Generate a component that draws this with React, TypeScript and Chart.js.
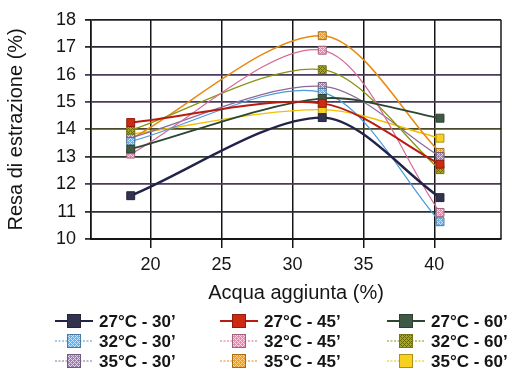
import { useEffect, useRef } from "react";
import { Chart, registerables } from "chart.js";

Chart.register(...registerables);

// ---- data ----
const waterAdded = [18.6, 32.1, 40.4]; // Acqua aggiunta (%)
const seriesLabels = [
  "27°C - 30’", "27°C - 45’", "27°C - 60’",
  "32°C - 30’", "32°C - 45’", "32°C - 60’",
  "35°C - 30’", "35°C - 45’", "35°C - 60’",
];
const s27_30 = [11.58, 14.43, 11.51];
const s27_45 = [14.25, 14.95, 12.73];
const s27_60 = [13.28, 15.13, 14.41];
const s32_30 = [13.56, 15.35, 10.63];
const s32_45 = [13.1, 16.89, 10.97];
const s32_60 = [13.97, 16.18, 12.53];
const s35_30 = [13.7, 15.57, 13.01];
const s35_45 = [13.65, 17.42, 13.16];
const s35_60 = [13.83, 14.72, 13.68];
const seriesValues = [s27_30, s27_45, s27_60, s32_30, s32_45, s32_60, s35_30, s35_45, s35_60];
const xTickValues = [20, 25, 30, 35, 40];
const yTickValues = [10, 11, 12, 13, 14, 15, 16, 17, 18];

// ---- styles ----
const FONT = "'Liberation Sans', Arial, Helvetica, sans-serif";
const styles = [
  { line: "#22224a", fill: "#33334f", hatch: null, width: 2.4, dash: false },
  { line: "#b81c10", fill: "#cc2a12", hatch: null, width: 2, dash: false },
  { line: "#2c4632", fill: "#3f5a44", hatch: null, width: 1.8, dash: false },
  { line: "#4a9ad8", fill: "#6ab0e8", hatch: "rgba(255,255,255,0.65)", width: 1.2, dash: true },
  { line: "#d66a98", fill: "#e88aae", hatch: "rgba(255,255,255,0.65)", width: 1.2, dash: true },
  { line: "#8a9410", fill: "#a8a820", hatch: "rgba(50,50,0,0.55)", width: 1.3, dash: true },
  { line: "#8a6a9a", fill: "#a080b0", hatch: "rgba(255,255,255,0.65)", width: 1.2, dash: true },
  { line: "#e88a10", fill: "#f0a020", hatch: "rgba(255,255,255,0.55)", width: 1.5, dash: true },
  { line: "#f0c000", fill: "#f8d020", hatch: null, width: 1.4, dash: true },
];

function makeFill(color: string, hatch: string | null): any {
  if (!hatch) return color;
  const c = document.createElement("canvas");
  c.width = 4;
  c.height = 4;
  const g = c.getContext("2d")!;
  g.fillStyle = color;
  g.fillRect(0, 0, 4, 4);
  g.fillStyle = hatch;
  for (let i = 0; i < 4; i++)
    for (let j = 0; j < 4; j++)
      if ((i + j) % 4 === 0 || (i - j + 4) % 4 === 0) g.fillRect(i, j, 1, 1);
  return g.createPattern(c, "repeat");
}

function darken(hex: string): string {
  const n = parseInt(hex.slice(1), 16);
  const r = Math.round(((n >> 16) & 255) * 0.7);
  const g = Math.round(((n >> 8) & 255) * 0.7);
  const b = Math.round((n & 255) * 0.7);
  return `rgb(${r},${g},${b})`;
}

const gridColors: Record<number, string> = {
  10: "#2a2a33", 11: "#2e2e3a", 12: "#4a3a5c", 13: "#2e3a2e", 14: "#4a4a2a",
  15: "#4a3a5c", 16: "#4a3a5c", 17: "#2a2a33", 18: "#1e1e28",
};

export default function App() {
  const ref = useRef<HTMLCanvasElement | null>(null);

  useEffect(() => {
    if (!ref.current) return;
    const fills = styles.map((s) => makeFill(s.fill, s.hatch));

    const datasets = seriesValues.map((vals, i) => ({
      label: seriesLabels[i],
      data: vals.map((v, k) => ({ x: waterAdded[k], y: v })),
      borderColor: styles[i].line,
      borderWidth: styles[i].width,
      backgroundColor: fills[i],
      pointBackgroundColor: fills[i],
      pointBorderColor: darken(styles[i].fill),
      pointBorderWidth: 1,
      pointStyle: "rect" as const,
      pointRadius: 5.6,
      tension: 0.3,
      fill: false,
    }));

    const bgPlugin = {
      id: "bg",
      beforeDraw(chart: any) {
        const ctx = chart.ctx;
        ctx.save();
        ctx.fillStyle = "#fff";
        ctx.fillRect(0, 0, chart.width, chart.height);
        ctx.restore();
      },
    };

    const framePlugin = {
      id: "frame",
      beforeDatasetsDraw(chart: any) {
        const { ctx, chartArea } = chart;
        ctx.save();
        ctx.strokeStyle = "#1a1a1a";
        ctx.lineWidth = 1.5;
        ctx.beginPath();
        ctx.moveTo(chartArea.right, chartArea.top);
        ctx.lineTo(chartArea.right, chartArea.bottom);
        ctx.stroke();
        ctx.restore();
      },
    };

    const legendPlugin = {
      id: "gridLegend",
      afterDraw(chart: any) {
        const ctx = chart.ctx;
        const colX = [55, 220, 387];
        const rowY = [321, 341, 361];
        ctx.save();
        chart.data.datasets.forEach((ds: any, i: number) => {
          const x = colX[i % 3];
          const y = rowY[Math.floor(i / 3)];
          const st = styles[i];
          ctx.strokeStyle = st.line;
          ctx.lineWidth = st.dash ? 1.2 : 1.8;
          ctx.setLineDash(st.dash ? [2, 1.5] : []);
          ctx.beginPath();
          ctx.moveTo(x, y);
          ctx.lineTo(x + 38, y);
          ctx.stroke();
          ctx.setLineDash([]);
          ctx.fillStyle = ds.pointBackgroundColor;
          ctx.fillRect(x + 12.5, y - 6.5, 13, 13);
          ctx.strokeStyle = ds.pointBorderColor;
          ctx.lineWidth = 1;
          ctx.strokeRect(x + 12.5, y - 6.5, 13, 13);
          ctx.fillStyle = "#151515";
          ctx.font = `bold 17px ${FONT}`;
          ctx.textBaseline = "middle";
          ctx.textAlign = "left";
          ctx.fillText(ds.label, x + 44, y + 1);
        });
        ctx.restore();
      },
    };

    const chart = new Chart(ref.current, {
      type: "line",
      data: { datasets: datasets as any },
      options: {
        animation: false,
        responsive: false,
        devicePixelRatio: 1,
        layout: { padding: { top: 19, right: 28, bottom: 71, left: 0 } },
        plugins: { legend: { display: false }, tooltip: { enabled: false } },
        scales: {
          x: {
            type: "linear",
            min: 15.8,
            max: 44.7,
            afterBuildTicks: (s: any) => {
              s.ticks = xTickValues.map((v) => ({ value: v }));
            },
            afterFit: (s: any) => {
              s.height = 71;
            },
            grid: { color: "#151515", lineWidth: 1.5, tickLength: 9, drawTicks: true },
            border: { color: "#151515", width: 2 },
            ticks: {
              font: { family: FONT, size: 18 },
              color: "#151515",
              padding: 6,
              maxRotation: 0,
              autoSkip: false,
            },
            title: {
              display: true,
              text: "Acqua aggiunta (%)",
              font: { family: FONT, size: 20 },
              color: "#151515",
              padding: { top: 0, bottom: 5 },
            },
          },
          y: {
            min: 10,
            max: 18,
            afterBuildTicks: (s: any) => {
              s.ticks = yTickValues.map((v) => ({ value: v }));
            },
            afterFit: (s: any) => {
              s.width = 91;
            },
            grid: {
              color: (c: any) => gridColors[c.tick?.value] || "#2a2a33",
              lineWidth: 1.8,
              tickLength: 6,
              drawTicks: true,
            },
            border: { color: "#151515", width: 1.8 },
            ticks: {
              font: { family: FONT, size: 18 },
              color: "#151515",
              padding: 9,
            },
            title: {
              display: true,
              text: "Resa di estrazione (%)",
              font: { family: FONT, size: 20 },
              color: "#151515",
              padding: { top: 4, bottom: 0 },
            },
          },
        },
      },
      plugins: [bgPlugin, framePlugin, legendPlugin],
    });
    return () => chart.destroy();
  }, []);

  return (
    <div style={{ position: "fixed", left: 0, top: 0, width: 529, height: 381, background: "#fff" }}>
      <canvas ref={ref} width={529} height={381} style={{ display: "block", width: 529, height: 381 }} />
    </div>
  );
}
